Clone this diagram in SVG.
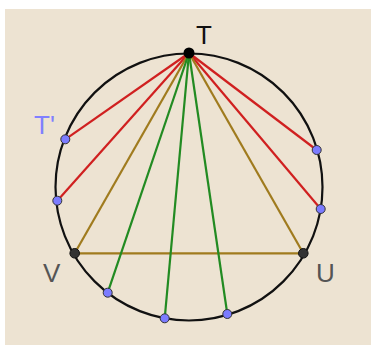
<svg xmlns="http://www.w3.org/2000/svg" width="371" height="347" viewBox="0 0 371 347">
<style>
.red{stroke:#d02020;stroke-width:2.2;fill:none}
.gold{stroke:#a07b1e;stroke-width:2.2;fill:none}
.green{stroke:#228b22;stroke-width:2.2;fill:none}
.pt{fill:#7b7bff;stroke:#333;stroke-width:1}
.blk{fill:#333;stroke:#111;stroke-width:1}
.lbl{font-family:"Liberation Sans",Arial,sans-serif;font-size:26px}
</style>
<rect x="0" y="0" width="371" height="347" fill="#ffffff"/>
<rect x="5" y="9" width="366" height="336" fill="#ede3d2"/>
<g id="circle"><circle cx="189" cy="187" r="133.5" fill="none" stroke="#111" stroke-width="2.2"/></g>
<g id="connectors">
<line class="red" x1="189" y1="53" x2="65.3" y2="139.3"/>
<line class="red" x1="189" y1="53" x2="57.3" y2="200.7"/>
<line class="red" x1="189" y1="53" x2="316.7" y2="150"/>
<line class="red" x1="189" y1="53" x2="320.7" y2="209"/>
<line class="gold" x1="189" y1="53" x2="74.7" y2="253.3"/>
<line class="gold" x1="189" y1="53" x2="303.3" y2="253.3"/>
<line class="gold" x1="74.7" y1="253.3" x2="303.3" y2="253.3"/>
<line class="green" x1="189" y1="53" x2="107.7" y2="292.7"/>
<line class="green" x1="189" y1="53" x2="164.7" y2="318.3"/>
<line class="green" x1="189" y1="53" x2="227.3" y2="314"/>
</g>
<g id="T"><circle cx="189" cy="53" r="5.5" fill="#000"/><text class="lbl" x="196" y="44" fill="#111">T</text></g>
<g id="Tp"><circle class="pt" cx="65.3" cy="139.3" r="4.5"/><text class="lbl" x="34" y="134" fill="#8080ff">T'</text></g>
<g id="P2"><circle class="pt" cx="57.3" cy="200.7" r="4.5"/></g>
<g id="P3"><circle class="pt" cx="316.7" cy="150" r="4.5"/></g>
<g id="P4"><circle class="pt" cx="320.7" cy="209" r="4.5"/></g>
<g id="V"><circle class="blk" cx="74.7" cy="253.3" r="4.8"/><text class="lbl" x="43" y="282" fill="#555">V</text></g>
<g id="U"><circle class="blk" cx="303.3" cy="253.3" r="4.8"/><text class="lbl" x="316" y="282" fill="#555">U</text></g>
<g id="P5"><circle class="pt" cx="107.7" cy="292.7" r="4.5"/></g>
<g id="P6"><circle class="pt" cx="164.7" cy="318.3" r="4.5"/></g>
<g id="P7"><circle class="pt" cx="227.3" cy="314" r="4.5"/></g>
</svg>
